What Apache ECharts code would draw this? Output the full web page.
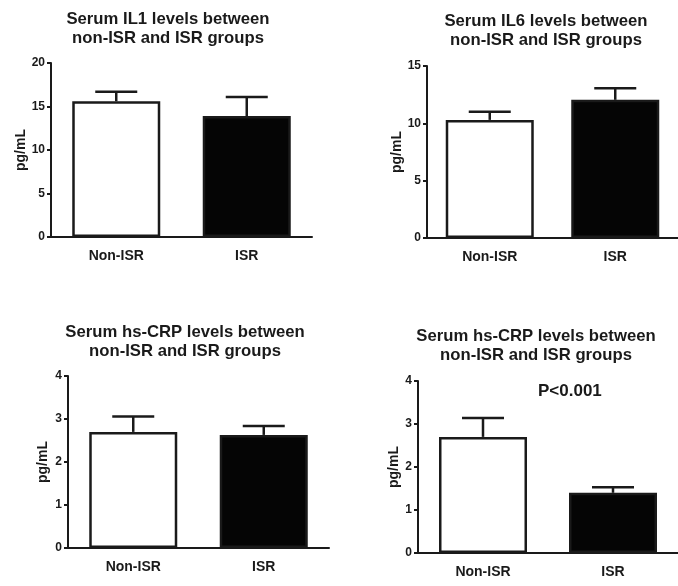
<!DOCTYPE html>
<html>
<head>
<meta charset="utf-8">
<style>
	html, body { margin: 0; padding: 0; background: #fff; }
	#main { width: 678px; height: 586px; }
</style>
<script src="https://cdn.jsdelivr.net/npm/echarts@6/dist/echarts.min.js"></script>
</head>
<body>
<div id="main"></div>
<script>
var categories = ['Non-ISR', 'ISR'];

var il1Mean = [15.6, 13.9];
var il1Upper = [16.7, 16.1];
var il6Mean = [10.3, 12.05];
var il6Upper = [11.0, 13.05];
var crpMean = [2.70, 2.63];
var crpUpper = [3.06, 2.84];
var crp2Mean = [2.70, 1.40];
var crp2Upper = [3.14, 1.53];

var titles = [
	'Serum IL1 levels between\nnon-ISR and ISR groups',
	'Serum IL6 levels between\nnon-ISR and ISR groups',
	'Serum hs-CRP levels between\nnon-ISR and ISR groups',
	'Serum hs-CRP levels between\nnon-ISR and ISR groups'
];
var yMax = [20, 15, 4, 4];
var yStep = [5, 5, 1, 1];

var ink = '#1a1a1a';
var font = '"Liberation Sans", Arial, sans-serif';

// panel layout: grid box, title centre, y-name gap
var panels = [
	{ left: 51, top: 63, width: 261, height: 174, tx: 163, ty: 5, gap: 23, mean: il1Mean, upper: il1Upper },
	{ left: 427, top: 66, width: 261, height: 172, tx: 541, ty: 7, gap: 23, mean: il6Mean, upper: il6Upper },
	{ left: 68, top: 376, width: 261, height: 172, tx: 180, ty: 318, gap: 18, mean: crpMean, upper: crpUpper },
	{ left: 418, top: 381, width: 261, height: 172, tx: 531, ty: 322, gap: 16, mean: crp2Mean, upper: crp2Upper }
];

var myChart = echarts.init(document.getElementById('main'));

var grid = [], xAxis = [], yAxis = [], series = [], title = [];

panels.forEach(function(p, i) {
	title.push({
		text: titles[i],
		left: p.tx,
		top: p.ty,
		textAlign: 'center',
		textStyle: { fontFamily: font, fontSize: 16.7, fontWeight: 'bold', color: ink, lineHeight: 19 }
	});
	grid.push({ left: p.left, top: p.top, width: p.width, height: p.height });
	xAxis.push({
		type: 'category',
		gridIndex: i,
		data: categories,
		axisLine: { lineStyle: { color: ink, width: 2 } },
		axisTick: { alignWithLabel: true, length: 5, lineStyle: { color: ink, width: 2 } },
		axisLabel: { fontFamily: font, fontSize: 14, fontWeight: 'bold', color: ink, margin: 12 }
	});
	yAxis.push({
		type: 'value',
		gridIndex: i,
		min: 0,
		max: yMax[i],
		interval: yStep[i],
		name: 'pg/mL',
		nameLocation: 'middle',
		nameGap: p.gap,
		nameTextStyle: { fontFamily: font, fontSize: 14, fontWeight: 'bold', color: ink },
		splitLine: { show: false },
		axisLine: { show: true, lineStyle: { color: ink, width: 2 } },
		axisTick: { show: true, length: 4, lineStyle: { color: ink, width: 2 } },
		axisLabel: { fontFamily: font, fontSize: 12, fontWeight: 'bold', color: ink, margin: 6 }
	});
	series.push({
		type: 'bar',
		xAxisIndex: i,
		yAxisIndex: i,
		barWidth: 88,
		data: p.mean.map(function(v, k) {
			return {
				value: v,
				itemStyle: { color: k === 0 ? '#fff' : '#050505', borderColor: ink, borderWidth: 2.5 }
			};
		}),
		z: 2
	});
	series.push({
		type: 'custom',
		xAxisIndex: i,
		yAxisIndex: i,
		data: p.mean.map(function(v, k) { return [k, v, p.upper[k]]; }),
		renderItem: function(params, api) {
			var lo = api.coord([api.value(0), api.value(1)]);
			var hi = api.coord([api.value(0), api.value(2)]);
			var half = 21;
			var st = { stroke: ink, lineWidth: 2.5 };
			return {
				type: 'group',
				children: [
					{ type: 'line', shape: { x1: lo[0], y1: lo[1], x2: hi[0], y2: hi[1] }, style: st },
					{ type: 'line', shape: { x1: hi[0] - half, y1: hi[1], x2: hi[0] + half, y2: hi[1] }, style: st }
				]
			};
		},
		z: 3
	});
});

option = {
	backgroundColor: '#fff',
	animation: false,
	title: title,
	grid: grid,
	xAxis: xAxis,
	yAxis: yAxis,
	series: series,
	graphic: [{
		type: 'text',
		left: 538,
		top: 383,
		style: { text: 'P<0.001', font: 'bold 17px ' + font, fill: ink }
	}]
};
myChart.setOption(option);
</script>
</body>
</html>
